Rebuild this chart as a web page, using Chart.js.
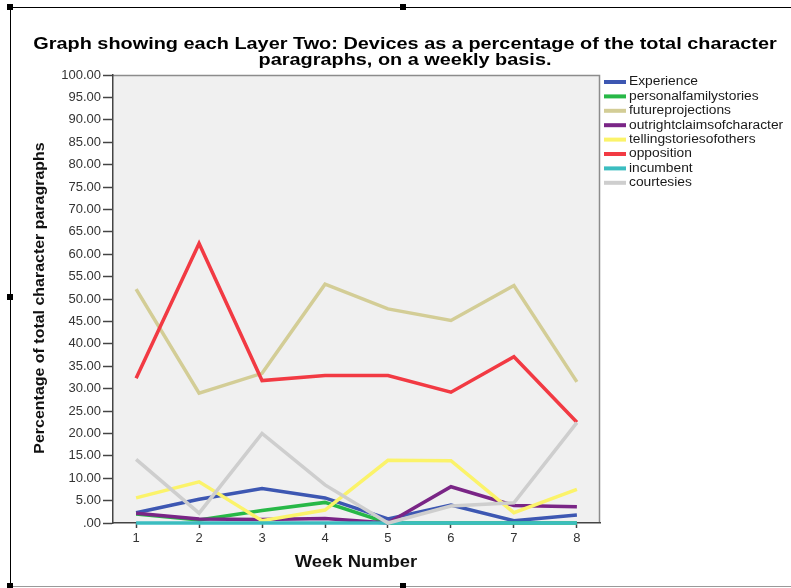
<!DOCTYPE html>
<html>
<head>
<meta charset="utf-8">
<script src="https://cdn.jsdelivr.net/npm/chart.js@4"></script>
<style>
  body { margin: 0; background: #fff; }
  canvas { display: block; }
</style>
</head>
<body>
<canvas id="chart" width="791" height="588"></canvas>
<script>
const weeks = [1, 2, 3, 4, 5, 6, 7, 8];
const seriesNames = ['Experience', 'personalfamilystories', 'futureprojections', 'outrightclaimsofcharacter',
    'tellingstoriesofothers', 'opposition', 'incumbent', 'courtesies'];
const experience = [2.3, 5.3, 7.7, 5.6, 0.9, 4.0, 0.5, 1.8];
const personalfamilystories = [2.0, 0.7, 2.8, 4.6, 0, 0, 0, 0];
const futureprojections = [52.2, 29.0, 33.4, 53.3, 47.8, 45.2, 53.0, 31.5];
const outrightclaimsofcharacter = [2.2, 0.9, 0.8, 1.0, 0, 8.1, 3.9, 3.6];
const tellingstoriesofothers = [5.6, 9.2, 0.5, 2.9, 14.0, 13.9, 2.3, 7.5];
const opposition = [32.3, 62.4, 31.8, 32.9, 32.9, 29.2, 37.1, 22.5];
const incumbent = [0, 0, 0, 0, 0, 0, 0, 0];
const courtesies = [14.2, 2.2, 20.0, 8.5, 0, 3.8, 4.5, 22.4];
const yTicks = [0, 5, 10, 15, 20, 25, 30, 35, 40, 45, 50, 55, 60, 65, 70, 75, 80, 85, 90, 95, 100];

const allSeries = [experience, personalfamilystories, futureprojections, outrightclaimsofcharacter,
    tellingstoriesofothers, opposition, incumbent, courtesies];
const colors = ['#3d57b2', '#27b847', '#d3cd96', '#7a2586', '#fbf36a', '#f23a43', '#3bbdc0', '#cecece'];

const FONT = '"Liberation Sans", Arial, sans-serif';
const STRETCH = 1.17; // the original export is a bit wider than its glyph height

function wideText(ctx, text, x, y, sx, rot) {
    ctx.save();
    ctx.translate(x, y);
    if (rot) ctx.rotate(rot);
    ctx.scale(sx, 1);
    ctx.fillText(text, 0, 0);
    ctx.restore();
}

// plot background, frame, titles and legend drawn like the SPSS output
const decor = {
    id: 'decor',
    beforeDraw(chart) {
        const { ctx, chartArea: a } = chart;
        ctx.save();
        ctx.fillStyle = '#f0f0f0';
        ctx.fillRect(a.left, a.top, a.right - a.left, a.bottom - a.top);
        ctx.strokeStyle = '#8c8c8c';
        ctx.lineWidth = 1.5;
        ctx.beginPath();
        ctx.moveTo(a.left, a.top + 0.5);
        ctx.lineTo(a.right - 0.5, a.top + 0.5);
        ctx.lineTo(a.right - 0.5, a.bottom);
        ctx.stroke();

        // outer frame
        ctx.strokeStyle = '#000';
        ctx.lineWidth = 1;
        ctx.beginPath();
        ctx.moveTo(10.5, 588);
        ctx.lineTo(10.5, 7.5);
        ctx.lineTo(791, 7.5);
        ctx.stroke();
        ctx.strokeStyle = '#999';
        ctx.beginPath();
        ctx.moveTo(10, 586.5);
        ctx.lineTo(791, 586.5);
        ctx.stroke();
        ctx.fillStyle = '#000';
        [[10, 7], [403, 7], [10, 297], [403, 586], [10, 586]].forEach(([x, y]) => {
            ctx.fillRect(x - 3, y - 3, 6, 6);
        });

        // title
        ctx.fillStyle = '#000';
        ctx.font = 'bold 17px ' + FONT;
        ctx.textAlign = 'center';
        ctx.textBaseline = 'middle';
        wideText(ctx, 'Graph showing each Layer Two: Devices as a percentage of the total character', 405, 44, STRETCH);
        wideText(ctx, 'paragraphs, on a weekly basis.', 405, 60, STRETCH);

        // axis titles
        ctx.fillStyle = '#111';
        ctx.font = 'bold 14px ' + FONT;
        wideText(ctx, 'Percentage of total character paragraphs', 40, 298, 1.14, -Math.PI / 2);
        ctx.font = 'bold 16px ' + FONT;
        wideText(ctx, 'Week Number', 356, 563, 1.15);
        ctx.restore();
    },
    afterDraw(chart) {
        const { ctx } = chart;
        ctx.save();
        ctx.font = '12px ' + FONT;
        ctx.textBaseline = 'middle';
        ctx.textAlign = 'left';
        chart.data.datasets.forEach((ds, i) => {
            const y = 82 + i * 14.4;
            ctx.strokeStyle = ds.borderColor;
            ctx.lineWidth = 4;
            ctx.beginPath();
            ctx.moveTo(604, y);
            ctx.lineTo(626, y);
            ctx.stroke();
            ctx.fillStyle = '#1a1a1a';
            wideText(ctx, ds.label, 629, y, 1.15);
        });
        ctx.restore();
    }
};

new Chart(document.getElementById('chart'), {
    type: 'line',
    data: {
        datasets: seriesNames.map((name, i) => ({
            label: name,
            data: weeks.map((w, j) => ({ x: w, y: allSeries[i][j] })),
            borderColor: colors[i],
            backgroundColor: colors[i],
            borderWidth: 3.5,
            pointRadius: 0,
            tension: 0,
            order: seriesNames.length - i,
            clip: 4
        }))
    },
    options: {
        responsive: false,
        animation: false,
        layout: { padding: { left: 0, top: 75, right: 191, bottom: 0 } },
        plugins: {
            legend: { display: false },
            title: { display: false },
            tooltip: { enabled: false }
        },
        scales: {
            x: {
                type: 'linear',
                min: 0.633,
                max: 8.367,
                afterBuildTicks: s => { s.ticks = weeks.map(v => ({ value: v })); },
                afterFit: s => { s.height = 65; },
                grid: { drawOnChartArea: false, tickLength: 5, tickColor: '#444', tickWidth: 1.5 },
                border: { color: '#444', width: 1.5 },
                ticks: { color: '#333', font: { family: FONT, size: 13 }, padding: 3, maxRotation: 0 },
                title: { display: false }
            },
            y: {
                min: 0,
                max: 100,
                afterBuildTicks: s => { s.ticks = yTicks.map(v => ({ value: v })); },
                afterFit: s => { s.width = 113; },
                grid: { drawOnChartArea: false, tickLength: 10, tickColor: '#444', tickWidth: 1.5 },
                border: { color: '#444', width: 1.5 },
                ticks: {
                    color: '#333', font: { family: FONT, size: 13 }, padding: 2,
                    callback: v => v === 0 ? '.00' : v.toFixed(2)
                },
                title: { display: false }
            }
        }
    },
    plugins: [decor]
});
</script>
</body>
</html>
